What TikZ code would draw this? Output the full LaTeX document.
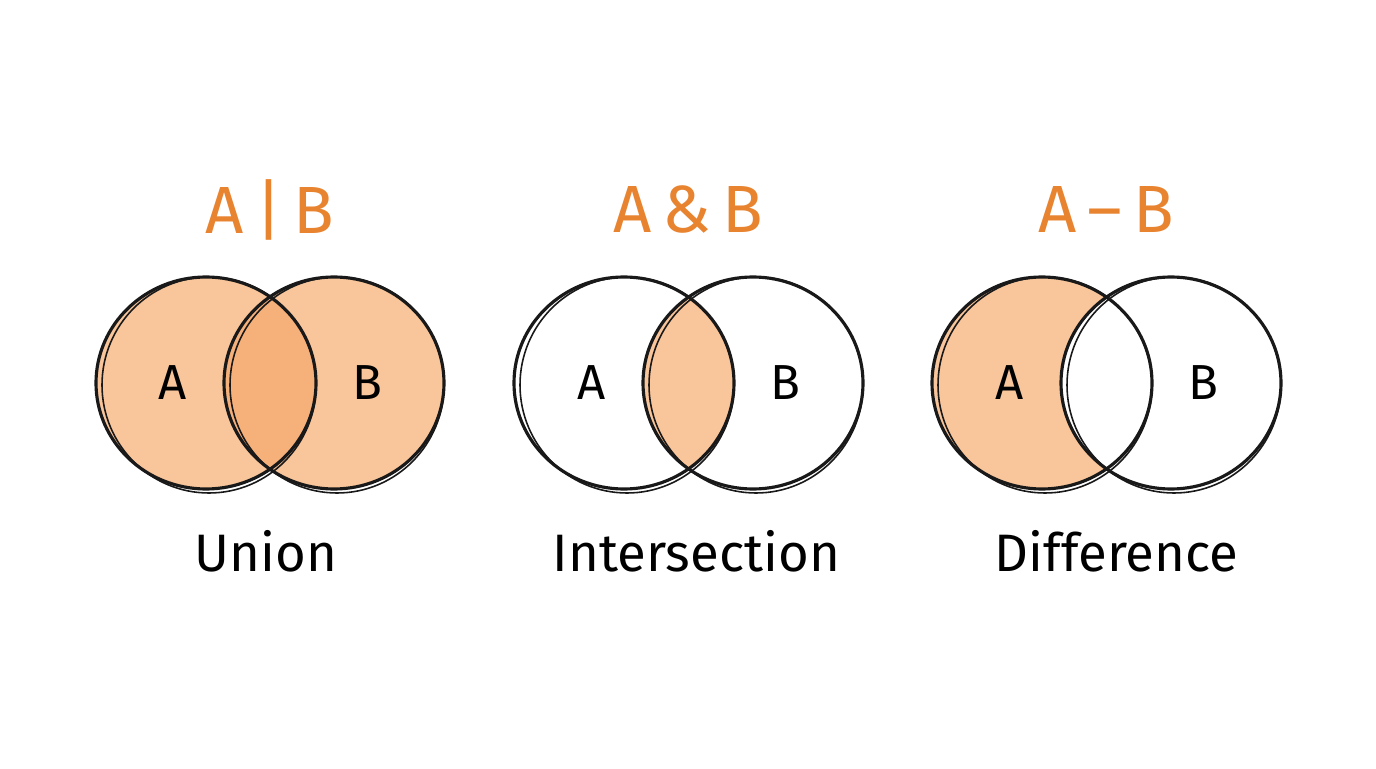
\documentclass[tikz,border=0pt]{standalone}
\usepackage{fontspec}
\setmainfont{Fira Sans}
\usepackage{xcolor}
\usetikzlibrary{calc}

\definecolor{titleorange}{RGB}{232,131,47}
\definecolor{softorange}{RGB}{249,197,155}
\definecolor{deeporange}{RGB}{246,176,122}

\begin{document}
\begin{tikzpicture}[
  x=0.02cm, y=0.02cm,
  ring/.style={draw=black!90, line width=1.8pt},
  ringb/.style={draw=black!90, line width=0.9pt},
  optitle/.style={font=\fontsize{38}{42}\selectfont, text=titleorange},
  setname/.style={font=\fontsize{28}{30}\selectfont},
  caption/.style={font=\fontsize{30}{34}\selectfont}
]
  \useasboundingbox (0,0) rectangle (1376,768);
  \fill[white] (0,0) rectangle (1376,768);

  % centres of the sets
  \coordinate (a1) at (206,385);
  \coordinate (b1) at (334,385);
  \coordinate (a2) at (624,385);
  \coordinate (b2) at (753,385);
  \coordinate (a3) at (1042,385);
  \coordinate (b3) at (1171,385);

  % union
  \fill[softorange] (a1) ellipse[x radius=110, y radius=106];
  \fill[softorange] (b1) ellipse[x radius=110, y radius=106];
  \begin{scope}
    \clip (a1) ellipse[x radius=110, y radius=106];
    \fill[deeporange] (b1) ellipse[x radius=110, y radius=106];
  \end{scope}

  % intersection
  \begin{scope}
    \clip (a2) ellipse[x radius=110, y radius=106];
    \fill[softorange] (b2) ellipse[x radius=110, y radius=106];
  \end{scope}

  % difference
  \begin{scope}
    \clip (a3) ellipse[x radius=110, y radius=106];
    \fill[softorange] (a3) ellipse[x radius=110, y radius=106];
    \fill[white] (b3) ellipse[x radius=110, y radius=106];
  \end{scope}

  % sketchy outlines
  \foreach \c in {a1,b1,a2,b2,a3,b3} {
    \draw[ring] (\c) ellipse[x radius=110, y radius=106];
    \draw[ringb] ($(\c)+(3,-2)$) ellipse[x radius=107, y radius=108];
  }

  % set names
  \node[setname] (na1) at ($(a1)+(-33,0)$) {A};
  \node[setname] (nb1) at ($(b1)+(33,0)$) {B};
  \node[setname] (na2) at ($(a2)+(-32,0)$) {A};
  \node[setname] (nb2) at ($(b2)+(32,0)$) {B};
  \node[setname] (na3) at ($(a3)+(-32,0)$) {A};
  \node[setname] (nb3) at ($(b3)+(32,0)$) {B};

  % operators
  \node[optitle] (t1) at ($(a1)!0.5!(b1)+(0,173)$) {A\,|\,B};
  \node[optitle] (t2) at ($(a2)!0.5!(b2)+(0,173)$) {A\,\&\,B};
  \node[optitle] (t3) at ($(a3)!0.5!(b3)+(0,173)$) {A\,–\,B};

  % captions
  \node[caption] (c1) at ($(a1)!0.5!(b1)+(-4,-168)$) {Union};
  \node[caption] (c2) at ($(a2)!0.5!(b2)+(8,-168)$) {Intersection};
  \node[caption] (c3) at ($(a3)!0.5!(b3)+(10,-168)$) {Difference};
\end{tikzpicture}
\end{document}
